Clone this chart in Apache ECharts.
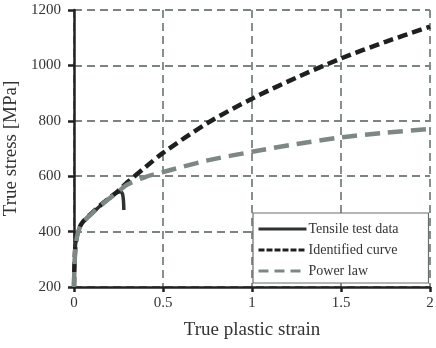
<!DOCTYPE html>
<html><head><meta charset="utf-8">
<script src="https://cdn.jsdelivr.net/npm/echarts@6/dist/echarts.min.js"></script>
<style>html,body{margin:0;padding:0;background:#fff}#c{width:436px;height:348px}</style>
</head><body><div id="c"></div>
<script>
const seriesNames = ["Tensile test data", "Identified curve", "Power law"];
const xTicks = [0, 0.5, 1, 1.5, 2];
const yTicks = [200, 400, 600, 800, 1000, 1200];

const tensileStrain = [0, 0.002, 0.005, 0.01, 0.02, 0.035, 0.05, 0.075, 0.1, 0.13, 0.16, 0.19, 0.22, 0.245, 0.262, 0.272, 0.277, 0.279, 0.28];
const tensileStress = [200, 270, 320, 360, 395, 420, 435, 452, 467, 483, 500, 515, 530, 541, 544, 537, 518, 498, 478];

const identStrain = [0, 0.003, 0.007, 0.012, 0.02, 0.035, 0.05, 0.075, 0.1, 0.15, 0.2, 0.25, 0.3, 0.4, 0.5, 0.75, 1.0, 1.25, 1.5, 1.75, 2.0];
const identStress = [200, 290, 340, 370, 395, 420, 435, 452, 467, 496, 522, 548, 578, 632, 684, 792, 880, 956, 1025, 1085, 1140];

const powerStrain = [0, 0.003, 0.007, 0.012, 0.02, 0.035, 0.05, 0.075, 0.1, 0.15, 0.2, 0.25, 0.3, 0.4, 0.5, 0.75, 1.0, 1.25, 1.5, 1.75, 2.0];
const powerStress = [200, 280, 330, 362, 390, 418, 433, 450, 465, 494, 520, 545, 570, 597, 615, 657, 688, 716, 740, 757, 771];

const zip = (xs, ys) => xs.map((x, i) => [x, ys[i]]);
const serif = "'Liberation Serif', 'DejaVu Serif', serif";
const gridColor = '#7b8482';
const colTensile = '#2e3232', colIdent = '#1e2020', colPower = '#7d8886';

const chart = echarts.init(document.getElementById('c'), null, {renderer: 'canvas'});
chart.setOption({
  animation: false,
  backgroundColor: '#fff',
  grid: {left: 74, right: 6, top: 10, bottom: 61, containLabel: false, outerBoundsMode: 'none'},
  legend: {
    orient: 'vertical', left: 253, top: 213,
    backgroundColor: '#fff', borderColor: '#6a6f6e', borderWidth: 1.2,
    padding: [9, 30, 5, 4], itemGap: 7, itemWidth: 48, itemHeight: 16,
    itemStyle: {opacity: 0},
    textStyle: {fontFamily: serif, fontSize: 14, color: '#333', padding: [0, 0, 0, -3]},
    data: [
      {name: seriesNames[0], itemStyle: {opacity: 0}, lineStyle: {color: colTensile, width: 3, type: 'solid'}},
      {name: seriesNames[1], itemStyle: {opacity: 0}, lineStyle: {color: colIdent, width: 3, type: [6, 2]}},
      {name: seriesNames[2], itemStyle: {opacity: 0}, lineStyle: {color: colPower, width: 3, type: [10, 6]}}
    ]
  },
  xAxis: {
    type: 'value', min: 0, max: 2, interval: 0.5,
    name: 'True plastic strain', nameLocation: 'middle', nameGap: 34,
    nameTextStyle: {fontFamily: serif, fontSize: 19, color: '#333'},
    axisLine: {show: true, onZero: false, lineStyle: {color: '#222', width: 2.5}},
    axisTick: {show: true, length: 5, lineStyle: {color: '#222', width: 2.5}},
    axisLabel: {fontFamily: serif, fontSize: 15, color: '#333', margin: 9,
      formatter: v => xTicks.includes(v) ? String(v) : ''},
    splitLine: {show: true, lineStyle: {color: gridColor, width: 1.8, type: [8, 5]}}
  },
  yAxis: {
    type: 'value', min: 200, max: 1200, interval: 200,
    name: 'True stress [MPa]', nameLocation: 'middle', nameGap: 48,
    nameTextStyle: {fontFamily: serif, fontSize: 19, color: '#333'},
    axisLine: {show: true, onZero: false, lineStyle: {color: '#222', width: 2.5}},
    axisTick: {show: true, length: 6, lineStyle: {color: '#222', width: 2.5}},
    axisLabel: {fontFamily: serif, fontSize: 15, color: '#333', margin: 13,
      formatter: v => yTicks.includes(v) ? String(v) : ''},
    splitLine: {show: true, lineStyle: {color: gridColor, width: 1.8, type: [8, 5]}}
  },
  series: [
    {name: seriesNames[0], type: 'line', data: zip(tensileStrain, tensileStress),
     showSymbol: false, symbol: 'none', smooth: 0.3, z: 3,
     itemStyle: {color: colTensile},
     lineStyle: {color: colTensile, width: 3.5, type: 'solid'}},
    {name: seriesNames[1], type: 'line', data: zip(identStrain, identStress),
     showSymbol: false, symbol: 'none', smooth: 0.3, z: 4,
     itemStyle: {color: colIdent},
     lineStyle: {color: colIdent, width: 4.5, type: [10, 5]}},
    {name: seriesNames[2], type: 'line', data: zip(powerStrain, powerStress),
     showSymbol: false, symbol: 'none', smooth: 0.3, z: 5,
     itemStyle: {color: colPower},
     lineStyle: {color: colPower, width: 4.5, type: [15, 8]}}
  ]
});
</script></body></html>
